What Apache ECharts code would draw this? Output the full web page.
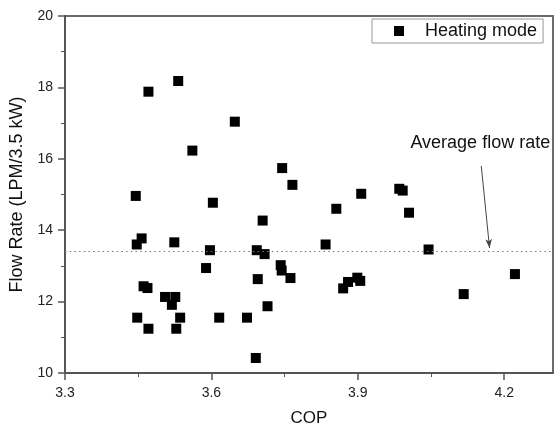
<!DOCTYPE html>
<html>
<head>
<meta charset="utf-8">
<script src="https://cdn.jsdelivr.net/npm/echarts@6/dist/echarts.min.js"></script>
<style>
  html, body { margin: 0; padding: 0; background: #fff; }
  #chart { width: 554px; height: 432px; }
</style>
</head>
<body>
<div id="chart"></div>
<script>
// COP vs flow rate, heating mode
const cop = [3.532, 3.471, 3.561, 3.648, 3.445, 3.603, 3.745, 3.766, 3.907, 3.856,
  3.705, 3.985, 3.992, 4.005, 3.457, 3.447, 3.524, 3.597, 3.589, 3.461,
  3.469, 3.505, 3.526, 3.519, 3.448, 3.536, 3.616, 3.471, 3.528, 3.834,
  3.693, 3.709, 3.742, 3.744, 3.762, 3.695, 3.715, 3.673, 3.691, 3.870,
  3.880, 3.899, 3.905, 4.045, 4.117, 4.222]
const flowRate = [18.18, 17.88, 16.23, 17.04, 14.96, 14.77, 15.74, 15.27, 15.02, 14.60,
  14.27, 15.16, 15.11, 14.49, 13.77, 13.60, 13.66, 13.44, 12.94, 12.43,
  12.38, 12.13, 12.13, 11.91, 11.55, 11.55, 11.55, 11.24, 11.24, 13.60,
  13.44, 13.33, 13.02, 12.87, 12.66, 12.63, 11.87, 11.55, 10.42, 12.37,
  12.55, 12.67, 12.58, 13.46, 12.21, 12.77]
const xTicks = [3.3, 3.6, 3.9, 4.2]
const xMinorTicks = [3.45, 3.75, 4.05]
const avgFlow = 13.4
const arrowFrom = [4.153, 15.8]
const arrowTo = [4.170, 13.5]
const noteAt = [4.151, 16.44]

const font = "'Liberation Sans', Arial, sans-serif"
const axisColor = '#555'

const chart = echarts.init(document.getElementById('chart'))
chart.setOption({
  animation: false,
  textStyle: { fontFamily: font },
  grid: {
    left: 63,
    right: 1,
    top: 16,
    bottom: 55,
    show: true,
    borderColor: '#6b6b6b',
    borderWidth: 2
  },
  legend: {
    left: 372,
    top: 19,
    padding: [3, 6, 3, 22],
    itemWidth: 10,
    itemHeight: 10,
    icon: 'rect',
    borderColor: '#999',
    borderWidth: 1,
    textStyle: { fontFamily: font, fontSize: 18, color: '#111', padding: [0, 0, 0, 16] },
    data: ['Heating mode']
  },
  xAxis: [
    {
      type: 'value',
      min: 3.3,
      max: 4.3,
      name: 'COP',
      nameLocation: 'middle',
      nameGap: 37,
      nameTextStyle: { fontFamily: font, fontSize: 17, color: '#111' },
      splitLine: { show: false },
      axisLine: { lineStyle: { color: axisColor, width: 2 } },
      axisTick: { show: true, customValues: xTicks, length: 7, lineStyle: { color: axisColor, width: 1.5 } },
      axisLabel: {
        customValues: xTicks,
        margin: 13,
        fontSize: 14,
        color: '#222',
        fontFamily: font,
        formatter: v => v.toFixed(1)
      }
    },
    {
      type: 'value',
      min: 3.3,
      max: 4.3,
      position: 'bottom',
      splitLine: { show: false },
      axisLine: { show: false },
      axisTick: { show: true, customValues: xMinorTicks, length: 4, lineStyle: { color: axisColor, width: 1 } },
      axisLabel: { show: false }
    }
  ],
  yAxis: {
    type: 'value',
    min: 10,
    max: 20,
    interval: 2,
    name: 'Flow Rate (LPM/3.5 kW)',
    nameLocation: 'middle',
    nameGap: 39,
    nameTextStyle: { fontFamily: font, fontSize: 18, color: '#111' },
    splitLine: { show: false },
    axisLine: { show: true, lineStyle: { color: axisColor, width: 2 } },
    axisTick: { show: true, length: 7, lineStyle: { color: axisColor, width: 1.5 } },
    minorTick: { show: true, splitNumber: 2, length: 4, lineStyle: { color: axisColor, width: 1 } },
    axisLabel: { margin: 12, fontSize: 14, color: '#222', fontFamily: font }
  },
  series: [
    {
      name: 'Heating mode',
      type: 'scatter',
      symbol: 'rect',
      symbolSize: 10,
      itemStyle: { color: '#000', opacity: 1 },
      data: cop.map((c, i) => [c, flowRate[i]]),
      markLine: {
        silent: true,
        symbol: ['none', 'none'],
        label: { show: false },
        data: [
          {
            yAxis: avgFlow,
            lineStyle: { color: '#777', width: 1, type: [1.5, 3.2] }
          },
          [
            { coord: arrowFrom, symbol: 'none' },
            { coord: arrowTo, symbol: 'arrow', symbolSize: [5, 9] }
          ]
        ],
        lineStyle: { color: '#444', width: 1, type: 'solid' }
      },
      markPoint: {
        silent: true,
        data: [
          {
            coord: noteAt,
            symbol: 'rect',
            symbolSize: 1,
            itemStyle: { color: 'rgba(0,0,0,0)' },
            label: {
              show: true,
              position: 'inside',
              formatter: 'Average flow rate',
              fontFamily: font,
              fontSize: 18,
              color: '#111'
            }
          }
        ]
      }
    }
  ]
})
</script>
</body>
</html>
